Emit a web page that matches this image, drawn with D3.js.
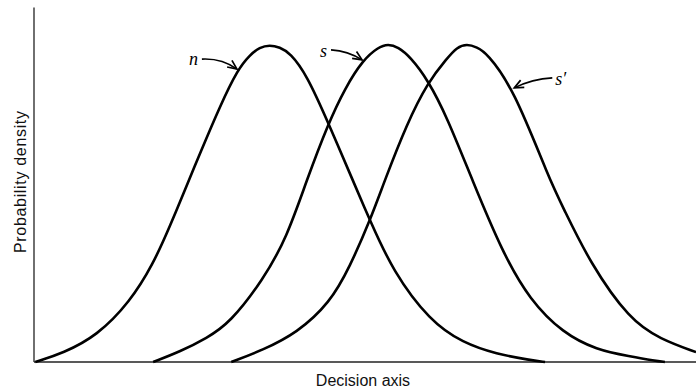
<!DOCTYPE html>
<html>
<head>
<meta charset="utf-8">
<script src="https://cdn.jsdelivr.net/npm/d3@7"></script>
<style>
  html, body { margin: 0; padding: 0; background: #fff; }
  svg { display: block; }
</style>
</head>
<body>
<svg id="chart" width="696" height="390"></svg>
<script>
// Noise distribution n: position on the decision axis and probability density (peak = 1)
const nX = [0.02, 0.44, 0.95, 1.45, 1.80, 2.05, 2.34, 2.51, 2.81, 3.08, 3.26, 3.41, 3.56, 3.71, 3.87, 4.12, 4.44, 4.82, 5.08, 5.42, 5.98, 6.48, 6.99, 7.49, 7.72];
const nY = [0, 0.028, 0.082, 0.189, 0.308, 0.425, 0.572, 0.657, 0.805, 0.921, 0.965, 0.99, 0.997, 0.99, 0.972, 0.903, 0.755, 0.569, 0.443, 0.286, 0.129, 0.060, 0.025, 0.006, 0];

// Signal-plus-noise distribution s
const sX = [1.80, 2.21, 2.61, 2.96, 3.46, 3.82, 4.12, 4.44, 4.70, 4.97, 5.20, 5.35, 5.50, 5.68, 5.95, 6.24, 6.62, 7.08, 7.49, 7.99, 8.50, 9.00, 9.38, 9.53];
const sY = [0, 0.033, 0.075, 0.123, 0.258, 0.392, 0.572, 0.748, 0.862, 0.950, 0.99, 1.0, 0.99, 0.960, 0.887, 0.770, 0.572, 0.343, 0.195, 0.091, 0.038, 0.018, 0.004, 0];

// Stronger signal distribution s'
const s2X = [2.98, 3.46, 3.97, 4.47, 4.77, 5.08, 5.30, 5.63, 5.95, 6.24, 6.39, 6.54, 6.69, 6.84, 7.24, 7.79, 7.99, 8.40, 9.00, 9.46, 10.0];
const s2Y = [0, 0.038, 0.091, 0.186, 0.299, 0.447, 0.572, 0.748, 0.880, 0.955, 0.99, 1.0, 0.99, 0.972, 0.862, 0.572, 0.487, 0.311, 0.132, 0.072, 0.031];

// Curve labels and the sample on each curve that its arrow points at
const curveLabels = ["n", "s", "s\u2032"];
const labelPointIndex = [9, 9, 14];

const axisTitleX = "Decision axis";
const axisTitleY = "Probability density";

const svg = d3.select("#chart");

const x = d3.scaleLinear().domain([0, 10]).range([34, 696]);
const y = d3.scaleLinear().domain([0, 1]).range([362, 44]);
const yTop = 1.115;

// Axes: plain lines, no ticks
svg.append("line")
  .attr("x1", x(0)).attr("x2", x(0))
  .attr("y1", y(0)).attr("y2", y(yTop))
  .attr("stroke", "#222").attr("stroke-width", 1.3);
svg.append("line")
  .attr("x1", x(0)).attr("x2", x(10))
  .attr("y1", y(0)).attr("y2", y(0))
  .attr("stroke", "#222").attr("stroke-width", 1.3);

const curves = [
  { xs: nX, ys: nY },
  { xs: sX, ys: sY },
  { xs: s2X, ys: s2Y }
];

const line = d3.line()
  .x(d => x(d[0]))
  .y(d => y(d[1]))
  .curve(d3.curveBasis);

svg.selectAll("path.density")
  .data(curves)
  .join("path")
  .attr("class", "density")
  .attr("d", c => line(d3.zip(c.xs, c.ys)))
  .attr("fill", "none")
  .attr("stroke", "#000")
  .attr("stroke-width", 2.6)
  .attr("stroke-linejoin", "round");

// Labelled arrows pointing at each curve
const arrowSpecs = [
  { tail: [-35, -10], bend: [-15, -11], text: [-4, 6], anchor: "end" },
  { tail: [-31, -10], bend: [-14, -9], text: [-4, 7], anchor: "end" },
  { tail: [38, -10], bend: [18, -9], text: [3, 7], anchor: "start" }
];

curves.forEach((c, i) => {
  const k = labelPointIndex[i];
  const hx = x(c.xs[k]) + (i === 2 ? 1 : -1), hy = y(c.ys[k]);
  const spec = arrowSpecs[i];
  const tx = hx + spec.tail[0], ty = hy + spec.tail[1];
  const cx = hx + spec.bend[0], cy = hy + spec.bend[1];
  const p = d3.path();
  p.moveTo(tx, ty);
  p.quadraticCurveTo(cx, cy, hx, hy);
  svg.append("path").attr("d", p.toString())
    .attr("fill", "none").attr("stroke", "#000").attr("stroke-width", 1.6);
  // open arrowhead
  const ang = Math.atan2(hy - cy, hx - cx);
  const len = 10, spread = 0.42;
  const head = d3.path();
  head.moveTo(hx - len * Math.cos(ang - spread), hy - len * Math.sin(ang - spread));
  head.lineTo(hx, hy);
  head.lineTo(hx - len * Math.cos(ang + spread), hy - len * Math.sin(ang + spread));
  svg.append("path").attr("d", head.toString())
    .attr("fill", "none").attr("stroke", "#000").attr("stroke-width", 1.7)
    .attr("stroke-linejoin", "miter");
  svg.append("text")
    .attr("x", tx + spec.text[0]).attr("y", ty + spec.text[1])
    .attr("text-anchor", spec.anchor)
    .attr("font-family", "'Liberation Serif', 'DejaVu Serif', serif")
    .attr("font-style", "italic")
    .attr("font-size", 18)
    .attr("fill", "#000")
    .text(curveLabels[i]);
});

// Axis titles
svg.append("text")
  .attr("x", 363).attr("y", 386)
  .attr("text-anchor", "middle")
  .attr("font-family", "'Liberation Sans', Arial, sans-serif")
  .attr("font-size", 16)
  .attr("fill", "#111")
  .text(axisTitleX);

svg.append("text")
  .attr("transform", "translate(26,182) rotate(-90)")
  .attr("text-anchor", "middle")
  .attr("font-family", "'Liberation Sans', Arial, sans-serif")
  .attr("font-size", 16)
  .attr("textLength", 142)
  .attr("lengthAdjust", "spacing")
  .attr("fill", "#111")
  .text(axisTitleY);
</script>
</body>
</html>
